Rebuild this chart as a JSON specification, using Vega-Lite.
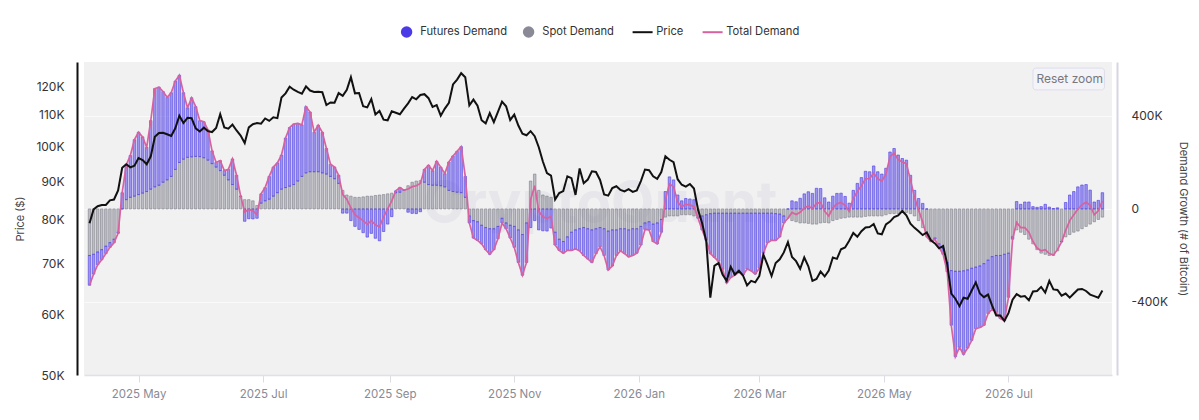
{
  "$schema": "https://vega.github.io/schema/vega-lite/v6.json",
  "width": 1028,
  "height": 313,
  "autosize": {"type": "none"},
  "padding": {"left": 84, "top": 62, "right": 87, "bottom": 45},
  "background": "#ffffff",
  "config": {
    "font": "Inter",
    "view": {"fill": "#f1f1f2", "stroke": null},
    "axis": {"labelFont": "Inter", "titleFont": "Inter"},
    "legend": {"labelFont": "Inter"}
  },
  "data": {
    "values": [
      {"d":"2025-04-07","p":79.2,"f":-128,"s":-200,"t":-328},
      {"d":"2025-04-09","p":82.6,"f":-85,"s":-195,"t":-280},
      {"d":"2025-04-11","p":83.4,"f":-55,"s":-185,"t":-240},
      {"d":"2025-04-13","p":83.7,"f":-43,"s":-175,"t":-218},
      {"d":"2025-04-15","p":83.7,"f":-32,"s":-160,"t":-192},
      {"d":"2025-04-17","p":84.9,"f":-20,"s":-145,"t":-165},
      {"d":"2025-04-19","p":85.1,"f":-15,"s":-130,"t":-145},
      {"d":"2025-04-21","p":87.5,"f":-5,"s":-100,"t":-105},
      {"d":"2025-04-23","p":93.7,"f":70,"s":0,"t":70},
      {"d":"2025-04-25","p":94.7,"f":150,"s":40,"t":190},
      {"d":"2025-04-27","p":93.8,"f":180,"s":50,"t":230},
      {"d":"2025-04-29","p":94.3,"f":243,"s":55,"t":298},
      {"d":"2025-05-01","p":96.5,"f":268,"s":62,"t":330},
      {"d":"2025-05-03","p":95.9,"f":242,"s":68,"t":310},
      {"d":"2025-05-05","p":94.7,"f":190,"s":75,"t":265},
      {"d":"2025-05-07","p":97.0,"f":295,"s":85,"t":380},
      {"d":"2025-05-09","p":102.9,"f":423,"s":95,"t":518},
      {"d":"2025-05-11","p":104.1,"f":422,"s":102,"t":524},
      {"d":"2025-05-13","p":104.2,"f":390,"s":115,"t":505},
      {"d":"2025-05-15","p":103.7,"f":355,"s":125,"t":480},
      {"d":"2025-05-17","p":103.2,"f":360,"s":140,"t":500},
      {"d":"2025-05-19","p":105.6,"f":380,"s":170,"t":550},
      {"d":"2025-05-21","p":109.7,"f":375,"s":200,"t":575},
      {"d":"2025-05-23","p":107.3,"f":286,"s":214,"t":500},
      {"d":"2025-05-25","p":109.0,"f":213,"s":222,"t":435},
      {"d":"2025-05-27","p":108.9,"f":254,"s":224,"t":478},
      {"d":"2025-05-29","p":105.6,"f":214,"s":226,"t":440},
      {"d":"2025-05-31","p":104.6,"f":155,"s":225,"t":380},
      {"d":"2025-06-02","p":105.8,"f":155,"s":220,"t":375},
      {"d":"2025-06-04","p":104.7,"f":130,"s":210,"t":340},
      {"d":"2025-06-06","p":104.4,"f":55,"s":195,"t":250},
      {"d":"2025-06-08","p":105.7,"f":20,"s":180,"t":200},
      {"d":"2025-06-10","p":110.2,"f":43,"s":165,"t":208},
      {"d":"2025-06-12","p":105.9,"f":20,"s":145,"t":165},
      {"d":"2025-06-14","p":105.5,"f":45,"s":125,"t":170},
      {"d":"2025-06-16","p":106.8,"f":110,"s":105,"t":215},
      {"d":"2025-06-18","p":104.9,"f":60,"s":85,"t":145},
      {"d":"2025-06-20","p":103.3,"f":0,"s":55,"t":55},
      {"d":"2025-06-22","p":101.0,"f":-53,"s":40,"t":-13},
      {"d":"2025-06-24","p":105.9,"f":-42,"s":40,"t":-2},
      {"d":"2025-06-26","p":106.9,"f":-43,"s":35,"t":-8},
      {"d":"2025-06-28","p":107.3,"f":-40,"s":15,"t":-25},
      {"d":"2025-06-30","p":107.1,"f":40,"s":25,"t":65},
      {"d":"2025-07-02","p":108.8,"f":57,"s":35,"t":92},
      {"d":"2025-07-04","p":108.0,"f":98,"s":42,"t":140},
      {"d":"2025-07-06","p":109.2,"f":125,"s":55,"t":180},
      {"d":"2025-07-08","p":108.9,"f":128,"s":70,"t":198},
      {"d":"2025-07-10","p":115.9,"f":147,"s":85,"t":232},
      {"d":"2025-07-12","p":117.4,"f":213,"s":92,"t":305},
      {"d":"2025-07-14","p":119.8,"f":252,"s":98,"t":350},
      {"d":"2025-07-16","p":118.7,"f":260,"s":105,"t":365},
      {"d":"2025-07-18","p":117.9,"f":248,"s":120,"t":368},
      {"d":"2025-07-20","p":117.3,"f":222,"s":140,"t":362},
      {"d":"2025-07-22","p":119.9,"f":285,"s":155,"t":440},
      {"d":"2025-07-24","p":118.4,"f":257,"s":160,"t":417},
      {"d":"2025-07-26","p":117.9,"f":170,"s":160,"t":330},
      {"d":"2025-07-28","p":118.0,"f":200,"s":160,"t":360},
      {"d":"2025-07-30","p":117.8,"f":175,"s":155,"t":330},
      {"d":"2025-08-01","p":113.3,"f":110,"s":150,"t":260},
      {"d":"2025-08-03","p":114.2,"f":52,"s":140,"t":192},
      {"d":"2025-08-05","p":114.1,"f":50,"s":130,"t":180},
      {"d":"2025-08-07","p":117.5,"f":35,"s":110,"t":145},
      {"d":"2025-08-09","p":116.5,"f":-18,"s":80,"t":62},
      {"d":"2025-08-11","p":118.7,"f":-18,"s":60,"t":42},
      {"d":"2025-08-13","p":123.3,"f":-50,"s":55,"t":5},
      {"d":"2025-08-15","p":117.4,"f":-75,"s":50,"t":-25},
      {"d":"2025-08-17","p":117.5,"f":-88,"s":50,"t":-38},
      {"d":"2025-08-19","p":112.9,"f":-102,"s":52,"t":-50},
      {"d":"2025-08-21","p":112.5,"f":-121,"s":55,"t":-66},
      {"d":"2025-08-23","p":115.4,"f":-105,"s":55,"t":-50},
      {"d":"2025-08-25","p":110.1,"f":-126,"s":58,"t":-68},
      {"d":"2025-08-27","p":111.3,"f":-137,"s":60,"t":-77},
      {"d":"2025-08-29","p":108.4,"f":-97,"s":62,"t":-35},
      {"d":"2025-08-31","p":108.2,"f":-65,"s":65,"t":0},
      {"d":"2025-09-02","p":111.2,"f":-33,"s":68,"t":35},
      {"d":"2025-09-04","p":110.7,"f":8,"s":70,"t":78},
      {"d":"2025-09-06","p":110.2,"f":20,"s":72,"t":92},
      {"d":"2025-09-08","p":112.1,"f":1,"s":80,"t":81},
      {"d":"2025-09-10","p":113.9,"f":-14,"s":100,"t":86},
      {"d":"2025-09-12","p":116.1,"f":-19,"s":115,"t":96},
      {"d":"2025-09-14","p":115.3,"f":-20,"s":120,"t":100},
      {"d":"2025-09-16","p":116.8,"f":-12,"s":122,"t":110},
      {"d":"2025-09-18","p":117.1,"f":55,"s":115,"t":170},
      {"d":"2025-09-20","p":115.7,"f":83,"s":105,"t":188},
      {"d":"2025-09-22","p":112.7,"f":63,"s":102,"t":165},
      {"d":"2025-09-24","p":113.3,"f":103,"s":102,"t":205},
      {"d":"2025-09-26","p":109.7,"f":80,"s":100,"t":180},
      {"d":"2025-09-28","p":112.1,"f":57,"s":95,"t":152},
      {"d":"2025-09-30","p":114.1,"f":122,"s":80,"t":202},
      {"d":"2025-10-02","p":120.6,"f":153,"s":75,"t":228},
      {"d":"2025-10-04","p":122.4,"f":176,"s":72,"t":248},
      {"d":"2025-10-06","p":124.8,"f":198,"s":70,"t":268},
      {"d":"2025-10-08","p":123.3,"f":90,"s":50,"t":140},
      {"d":"2025-10-10","p":113.2,"f":-30,"s":-30,"t":-60},
      {"d":"2025-10-12","p":115.2,"f":-75,"s":-50,"t":-125},
      {"d":"2025-10-14","p":113.1,"f":-80,"s":-55,"t":-135},
      {"d":"2025-10-16","p":108.2,"f":-80,"s":-70,"t":-150},
      {"d":"2025-10-18","p":107.2,"f":-95,"s":-80,"t":-175},
      {"d":"2025-10-20","p":110.6,"f":-110,"s":-85,"t":-195},
      {"d":"2025-10-22","p":107.6,"f":-90,"s":-85,"t":-175},
      {"d":"2025-10-24","p":111.0,"f":-53,"s":-75,"t":-128},
      {"d":"2025-10-26","p":114.5,"f":-20,"s":-40,"t":-60},
      {"d":"2025-10-28","p":112.9,"f":-25,"s":-60,"t":-85},
      {"d":"2025-10-30","p":108.3,"f":-55,"s":-70,"t":-125},
      {"d":"2025-11-01","p":110.1,"f":-90,"s":-75,"t":-165},
      {"d":"2025-11-03","p":106.5,"f":-140,"s":-90,"t":-230},
      {"d":"2025-11-05","p":103.9,"f":-175,"s":-110,"t":-285},
      {"d":"2025-11-07","p":103.4,"f":-170,"s":-60,"t":-230},
      {"d":"2025-11-09","p":104.7,"f":-80,"s":120,"t":40},
      {"d":"2025-11-11","p":103.1,"f":-50,"s":150,"t":100},
      {"d":"2025-11-13","p":99.7,"f":-90,"s":80,"t":-10},
      {"d":"2025-11-15","p":95.5,"f":-94,"s":60,"t":-34},
      {"d":"2025-11-17","p":92.2,"f":-95,"s":55,"t":-40},
      {"d":"2025-11-19","p":91.5,"f":-82,"s":50,"t":-32},
      {"d":"2025-11-21","p":85.1,"f":-55,"s":-100,"t":-155},
      {"d":"2025-11-23","p":86.8,"f":-48,"s":-130,"t":-178},
      {"d":"2025-11-25","p":87.3,"f":-50,"s":-140,"t":-190},
      {"d":"2025-11-27","p":91.3,"f":-58,"s":-120,"t":-178},
      {"d":"2025-11-29","p":90.8,"f":-78,"s":-100,"t":-178},
      {"d":"2025-12-01","p":86.3,"f":-82,"s":-90,"t":-172},
      {"d":"2025-12-03","p":93.5,"f":-95,"s":-85,"t":-180},
      {"d":"2025-12-05","p":89.4,"f":-120,"s":-80,"t":-200},
      {"d":"2025-12-07","p":90.4,"f":-130,"s":-85,"t":-215},
      {"d":"2025-12-09","p":92.7,"f":-140,"s":-90,"t":-230},
      {"d":"2025-12-11","p":92.5,"f":-107,"s":-85,"t":-192},
      {"d":"2025-12-13","p":90.3,"f":-83,"s":-80,"t":-163},
      {"d":"2025-12-15","p":86.4,"f":-115,"s":-85,"t":-200},
      {"d":"2025-12-17","p":86.1,"f":-167,"s":-95,"t":-262},
      {"d":"2025-12-19","p":88.1,"f":-155,"s":-90,"t":-245},
      {"d":"2025-12-21","p":88.6,"f":-110,"s":-90,"t":-200},
      {"d":"2025-12-23","p":87.6,"f":-95,"s":-85,"t":-180},
      {"d":"2025-12-25","p":87.2,"f":-107,"s":-85,"t":-192},
      {"d":"2025-12-27","p":87.8,"f":-116,"s":-90,"t":-206},
      {"d":"2025-12-29","p":87.1,"f":-115,"s":-85,"t":-200},
      {"d":"2025-12-31","p":87.5,"f":-105,"s":-85,"t":-190},
      {"d":"2026-01-02","p":90.0,"f":-80,"s":-75,"t":-155},
      {"d":"2026-01-04","p":93.2,"f":-28,"s":-60,"t":-88},
      {"d":"2026-01-06","p":93.0,"f":-35,"s":-55,"t":-90},
      {"d":"2026-01-08","p":91.3,"f":-75,"s":-65,"t":-140},
      {"d":"2026-01-10","p":90.6,"f":-90,"s":-60,"t":-150},
      {"d":"2026-01-12","p":92.5,"f":-55,"s":-45,"t":-100},
      {"d":"2026-01-14","p":97.0,"f":75,"s":-35,"t":40},
      {"d":"2026-01-16","p":96.0,"f":138,"s":-30,"t":108},
      {"d":"2026-01-18","p":95.3,"f":125,"s":-30,"t":95},
      {"d":"2026-01-20","p":90.5,"f":60,"s":-30,"t":30},
      {"d":"2026-01-22","p":89.0,"f":35,"s":-25,"t":10},
      {"d":"2026-01-24","p":88.5,"f":45,"s":-25,"t":20},
      {"d":"2026-01-26","p":89.2,"f":43,"s":-25,"t":18},
      {"d":"2026-01-28","p":88.0,"f":40,"s":-30,"t":10},
      {"d":"2026-01-30","p":82.5,"f":-5,"s":-35,"t":-40},
      {"d":"2026-02-01","p":79.2,"f":-60,"s":-30,"t":-90},
      {"d":"2026-02-03","p":75.0,"f":-110,"s":-25,"t":-135},
      {"d":"2026-02-05","p":63.2,"f":-172,"s":-20,"t":-192},
      {"d":"2026-02-07","p":69.6,"f":-190,"s":-18,"t":-208},
      {"d":"2026-02-09","p":70.2,"f":-207,"s":-18,"t":-225},
      {"d":"2026-02-11","p":67.8,"f":-242,"s":-18,"t":-260},
      {"d":"2026-02-13","p":66.5,"f":-300,"s":-18,"t":-318},
      {"d":"2026-02-15","p":69.4,"f":-277,"s":-18,"t":-295},
      {"d":"2026-02-17","p":67.8,"f":-266,"s":-18,"t":-284},
      {"d":"2026-02-19","p":68.6,"f":-254,"s":-18,"t":-272},
      {"d":"2026-02-21","p":67.6,"f":-266,"s":-18,"t":-284},
      {"d":"2026-02-23","p":65.6,"f":-240,"s":-18,"t":-258},
      {"d":"2026-02-25","p":66.5,"f":-248,"s":-18,"t":-266},
      {"d":"2026-02-27","p":66.2,"f":-262,"s":-18,"t":-280},
      {"d":"2026-03-01","p":67.5,"f":-237,"s":-18,"t":-255},
      {"d":"2026-03-03","p":72.0,"f":-172,"s":-18,"t":-190},
      {"d":"2026-03-05","p":69.8,"f":-127,"s":-18,"t":-145},
      {"d":"2026-03-07","p":67.5,"f":-117,"s":-18,"t":-135},
      {"d":"2026-03-09","p":70.2,"f":-115,"s":-20,"t":-135},
      {"d":"2026-03-11","p":71.0,"f":-98,"s":-22,"t":-120},
      {"d":"2026-03-13","p":72.5,"f":-30,"s":-30,"t":-60},
      {"d":"2026-03-15","p":74.8,"f":0,"s":-40,"t":-40},
      {"d":"2026-03-17","p":71.5,"f":35,"s":-50,"t":-15},
      {"d":"2026-03-19","p":70.6,"f":31,"s":-55,"t":-24},
      {"d":"2026-03-21","p":69.0,"f":46,"s":-60,"t":-14},
      {"d":"2026-03-23","p":71.4,"f":65,"s":-60,"t":5},
      {"d":"2026-03-25","p":69.5,"f":74,"s":-62,"t":12},
      {"d":"2026-03-27","p":66.5,"f":67,"s":-65,"t":2},
      {"d":"2026-03-29","p":66.9,"f":89,"s":-65,"t":24},
      {"d":"2026-03-31","p":68.4,"f":88,"s":-60,"t":28},
      {"d":"2026-04-02","p":67.4,"f":48,"s":-58,"t":-10},
      {"d":"2026-04-04","p":68.6,"f":30,"s":-60,"t":-30},
      {"d":"2026-04-06","p":71.4,"f":55,"s":-50,"t":5},
      {"d":"2026-04-08","p":71.1,"f":67,"s":-45,"t":22},
      {"d":"2026-04-10","p":73.2,"f":68,"s":-40,"t":28},
      {"d":"2026-04-12","p":73.6,"f":54,"s":-38,"t":16},
      {"d":"2026-04-14","p":75.1,"f":25,"s":-35,"t":-10},
      {"d":"2026-04-16","p":76.9,"f":80,"s":-35,"t":45},
      {"d":"2026-04-18","p":76.0,"f":110,"s":-35,"t":75},
      {"d":"2026-04-20","p":77.3,"f":135,"s":-35,"t":100},
      {"d":"2026-04-22","p":78.2,"f":162,"s":-32,"t":130},
      {"d":"2026-04-24","p":78.3,"f":160,"s":-30,"t":130},
      {"d":"2026-04-26","p":79.0,"f":185,"s":-30,"t":155},
      {"d":"2026-04-28","p":76.8,"f":160,"s":-30,"t":130},
      {"d":"2026-04-30","p":76.6,"f":150,"s":-30,"t":120},
      {"d":"2026-05-02","p":78.9,"f":175,"s":-25,"t":150},
      {"d":"2026-05-04","p":79.6,"f":245,"s":-20,"t":225},
      {"d":"2026-05-06","p":80.7,"f":260,"s":-20,"t":240},
      {"d":"2026-05-08","p":81.1,"f":232,"s":-20,"t":212},
      {"d":"2026-05-10","p":82.2,"f":217,"s":-15,"t":202},
      {"d":"2026-05-12","p":81.1,"f":210,"s":-15,"t":195},
      {"d":"2026-05-14","p":79.1,"f":145,"s":-20,"t":125},
      {"d":"2026-05-16","p":78.1,"f":80,"s":-30,"t":50},
      {"d":"2026-05-18","p":77.3,"f":45,"s":-50,"t":-5},
      {"d":"2026-05-20","p":76.4,"f":24,"s":-80,"t":-56},
      {"d":"2026-05-22","p":77.0,"f":0,"s":-120,"t":-120},
      {"d":"2026-05-24","p":75.2,"f":-5,"s":-135,"t":-140},
      {"d":"2026-05-26","p":74.5,"f":-5,"s":-125,"t":-130},
      {"d":"2026-05-28","p":73.4,"f":-15,"s":-150,"t":-165},
      {"d":"2026-05-30","p":73.9,"f":-25,"s":-170,"t":-195},
      {"d":"2026-06-01","p":70.0,"f":-40,"s":-230,"t":-270},
      {"d":"2026-06-03","p":64.0,"f":-235,"s":-265,"t":-500},
      {"d":"2026-06-05","p":63.0,"f":-367,"s":-268,"t":-635},
      {"d":"2026-06-07","p":61.6,"f":-327,"s":-268,"t":-595},
      {"d":"2026-06-09","p":63.2,"f":-359,"s":-266,"t":-625},
      {"d":"2026-06-11","p":63.0,"f":-336,"s":-262,"t":-598},
      {"d":"2026-06-13","p":64.6,"f":-310,"s":-255,"t":-565},
      {"d":"2026-06-15","p":66.2,"f":-265,"s":-250,"t":-515},
      {"d":"2026-06-17","p":64.0,"f":-265,"s":-245,"t":-510},
      {"d":"2026-06-19","p":63.3,"f":-265,"s":-235,"t":-500},
      {"d":"2026-06-21","p":63.8,"f":-230,"s":-220,"t":-450},
      {"d":"2026-06-23","p":61.7,"f":-225,"s":-205,"t":-430},
      {"d":"2026-06-25","p":59.9,"f":-245,"s":-200,"t":-445},
      {"d":"2026-06-27","p":59.9,"f":-271,"s":-200,"t":-471},
      {"d":"2026-06-29","p":58.9,"f":-285,"s":-195,"t":-480},
      {"d":"2026-07-01","p":60.3,"f":-190,"s":-190,"t":-380},
      {"d":"2026-07-03","p":62.8,"f":-10,"s":-120,"t":-130},
      {"d":"2026-07-05","p":63.9,"f":32,"s":-90,"t":-58},
      {"d":"2026-07-07","p":63.4,"f":20,"s":-100,"t":-80},
      {"d":"2026-07-09","p":63.5,"f":30,"s":-110,"t":-80},
      {"d":"2026-07-11","p":62.7,"f":30,"s":-130,"t":-100},
      {"d":"2026-07-13","p":64.4,"f":10,"s":-150,"t":-140},
      {"d":"2026-07-15","p":64.5,"f":7,"s":-175,"t":-168},
      {"d":"2026-07-17","p":65.3,"f":10,"s":-190,"t":-180},
      {"d":"2026-07-19","p":64.2,"f":20,"s":-195,"t":-175},
      {"d":"2026-07-21","p":66.5,"f":8,"s":-200,"t":-192},
      {"d":"2026-07-23","p":64.8,"f":2,"s":-200,"t":-198},
      {"d":"2026-07-25","p":64.7,"f":5,"s":-180,"t":-175},
      {"d":"2026-07-27","p":63.6,"f":-2,"s":-140,"t":-142},
      {"d":"2026-07-29","p":64.0,"f":28,"s":-120,"t":-92},
      {"d":"2026-07-31","p":63.2,"f":60,"s":-110,"t":-50},
      {"d":"2026-08-02","p":64.0,"f":75,"s":-100,"t":-25},
      {"d":"2026-08-04","p":64.8,"f":95,"s":-95,"t":0},
      {"d":"2026-08-06","p":64.9,"f":103,"s":-85,"t":18},
      {"d":"2026-08-08","p":64.5,"f":105,"s":-75,"t":30},
      {"d":"2026-08-10","p":63.8,"f":81,"s":-65,"t":16},
      {"d":"2026-08-12","p":63.5,"f":30,"s":-55,"t":-25},
      {"d":"2026-08-14","p":63.2,"f":37,"s":-45,"t":-8},
      {"d":"2026-08-16","p":64.6,"f":70,"s":-35,"t":35}
    ]
  },
  "layer": [
    {
      "layer": [
        {
          "data": {"values": [{}]},
          "mark": {"type": "text", "text": "CryptoQuant", "fontSize": 56, "fontWeight": "bold", "fill": "#e6e6eb", "align": "center", "baseline": "middle"},
          "encoding": {
            "x": {"datum": 1765584000000, "type": "temporal"},
            "y": {"datum": 15, "type": "quantitative"}
          }
        },
        {
          "transform": [{"fold": ["s", "f"], "as": ["key", "value"]}],
          "mark": {"type": "bar", "width": 2.5, "fillOpacity": 0.5, "strokeWidth": 0.6},
          "encoding": {
            "x": {
              "field": "d",
              "type": "temporal",
              "scale": {
                "type": "utc",
                "domain": [
                  {"year": 2025, "month": 4, "date": 6, "hours": 18, "utc": true},
                  {"year": 2026, "month": 8, "date": 18, "hours": 6, "utc": true}
                ]
              },
              "axis": {
                "title": null,
                "format": "%Y %b",
                "values": [
                  {"year": 2025, "month": 5, "date": 1, "utc": true},
                  {"year": 2025, "month": 7, "date": 1, "utc": true},
                  {"year": 2025, "month": 9, "date": 1, "utc": true},
                  {"year": 2025, "month": 11, "date": 1, "utc": true},
                  {"year": 2026, "month": 1, "date": 1, "utc": true},
                  {"year": 2026, "month": 3, "date": 1, "utc": true},
                  {"year": 2026, "month": 5, "date": 1, "utc": true},
                  {"year": 2026, "month": 7, "date": 1, "utc": true}
                ],
                "grid": false,
                "labelColor": "#8a8a94",
                "labelFontSize": 11.5,
                "labelPadding": 6,
                "tickColor": "#dcdce4",
                "tickSize": 7,
                "domainColor": "#e0e0e8",
                "domainWidth": 1.5
              }
            },
            "y": {
              "field": "value",
              "type": "quantitative",
              "stack": "zero",
              "scale": {"domain": [-714, 632], "nice": false, "zero": false},
              "axis": {
                "orient": "right",
                "values": [-400, 0, 400],
                "labelExpr": "datum.value == 0 ? '0' : datum.value + 'K'",
                "title": "Demand Growth (# of Bitcoin)",
                "offset": 5,
                "domainColor": "#d6d6e2",
                "domainWidth": 2,
                "ticks": false,
                "labelPadding": 14,
                "grid": true,
                "gridColor": "#fafafa",
                "labelColor": "#333333",
                "labelFontSize": 12,
                "titleColor": "#444444",
                "titleFontSize": 11,
                "titleFontWeight": "normal",
                "titlePadding": 10
              }
            },
            "color": {
              "field": "key",
              "type": "nominal",
              "scale": {"domain": ["f", "s", "p", "t"], "range": ["#4b3be6", "#8a8a96", "#111111", "#d8629f"]},
              "legend": {
                "orient": "none",
                "legendX": 317,
                "legendY": -36,
                "direction": "horizontal",
                "columns": 4,
                "title": null,
                "labelExpr": "{'f': 'Futures Demand', 's': 'Spot Demand', 'p': 'Price', 't': 'Total Demand'}[datum.label]",
                "labelFontSize": 11.2,
                "labelColor": "#333333",
                "labelOffset": 8,
                "columnPadding": 14,
                "symbolSize": 130,
                "symbolOpacity": 1,
                "encode": {
                  "symbols": {
                    "update": {
                      "shape": {"signal": "datum.value == 'p' || datum.value == 't' ? 'stroke' : 'circle'"},
                      "size": {"signal": "datum.value == 'p' || datum.value == 't' ? 400 : 130"},
                      "fill": {"signal": "scale('color', datum.value)"},
                      "stroke": {"signal": "scale('color', datum.value)"},
                      "strokeWidth": {"signal": "datum.value == 'p' || datum.value == 't' ? 2 : 0"},
                      "opacity": {"value": 1},
                      "fillOpacity": {"value": 1},
                      "strokeOpacity": {"value": 1}
                    }
                  }
                }
              }
            },
            "stroke": {
              "field": "key",
              "type": "nominal",
              "scale": {"domain": ["f", "s"], "range": ["#4b3be6", "#7e7e8a"]},
              "legend": null
            },
            "order": {"field": "key", "sort": "descending"}
          }
        },
        {
          "mark": {"type": "line", "strokeWidth": 1.7},
          "encoding": {
            "x": {"field": "d", "type": "temporal"},
            "y": {"field": "t", "type": "quantitative"},
            "color": {"datum": "t", "type": "nominal"}
          }
        },
        {
          "data": {"values": [{}]},
          "mark": {"type": "rect", "fill": "#f3f3f8", "stroke": "#dedeea", "strokeWidth": 1, "cornerRadius": 3},
          "encoding": {
            "x": {"datum": 1783900800000, "type": "temporal"},
            "x2": {"datum": 1786924800000},
            "y": {"datum": 606, "type": "quantitative"},
            "y2": {"datum": 512}
          }
        },
        {
          "data": {"values": [{}]},
          "mark": {"type": "text", "text": "Reset zoom", "fontSize": 12, "fill": "#77777f", "align": "center", "baseline": "middle"},
          "encoding": {
            "x": {"datum": 1785456000000, "type": "temporal"},
            "y": {"datum": 559, "type": "quantitative"}
          }
        }
      ]
    },
    {
      "mark": {"type": "line", "strokeWidth": 2},
      "encoding": {
        "x": {"field": "d", "type": "temporal"},
        "y": {
          "field": "p",
          "type": "quantitative",
          "scale": {"type": "log", "domain": [50, 129.1], "nice": false},
          "axis": {
            "orient": "left",
            "values": [50, 60, 70, 80, 90, 100, 110, 120],
            "labelExpr": "datum.value + 'K'",
            "title": "Price ($)",
            "offset": 7,
            "domainColor": "#111111",
            "domainWidth": 2,
            "ticks": false,
            "labelPadding": 13,
            "grid": false,
            "labelColor": "#333333",
            "labelFontSize": 12,
            "titleColor": "#444444",
            "titleFontSize": 11,
            "titleFontWeight": "normal",
            "titlePadding": 10
          }
        },
        "color": {"datum": "p", "type": "nominal"}
      }
    }
  ],
  "resolve": {"scale": {"y": "independent"}}
}
